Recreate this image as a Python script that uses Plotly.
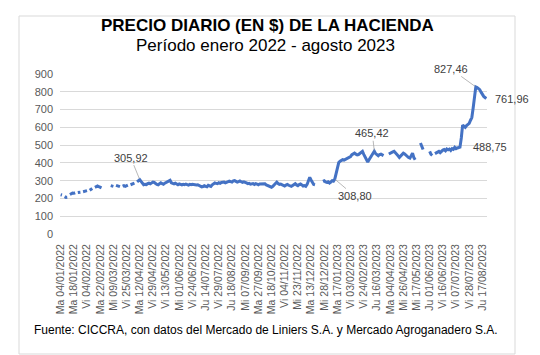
import plotly.graph_objects as go

# Tick labels (every 10th trading day)
tick_labels = [
    "Ma 04/01/2022", "Ma 18/01/2022", "Vi 04/02/2022", "Ma 22/02/2022", "Mi 09/03/2022",
    "Vi 25/03/2022", "Ma 12/04/2022", "Vi 29/04/2022", "Vi 13/05/2022", "Mi 01/06/2022",
    "Vi 24/06/2022", "Ju 14/07/2022", "Vi 29/07/2022", "Ju 18/08/2022", "Mi 07/09/2022",
    "Ma 27/09/2022", "Ma 18/10/2022", "Vi 04/11/2022", "Mi 23/11/2022", "Ma 13/12/2022",
    "Mi 28/12/2022", "Ma 17/01/2023", "Vi 03/02/2023", "Vi 24/02/2023", "Ju 16/03/2023",
    "Ma 04/04/2023", "Mi 26/04/2023", "Mi 17/05/2023", "Ju 01/06/2023", "Vi 16/06/2023",
    "Vi 07/07/2023", "Vi 28/07/2023", "Ju 17/08/2023",
]

# Daily price (one value per trading day, None = no data)
precio = [
    221, 219, None, 210, 206, 207, None, 222, 228, 230,
    229, 232, None, 233, 236, 235, None, 238, 241, 240,
    244, None, 246, 249, 256, None, 262, 268, 270, 266,
    262, 259, None, None, None, None, None, None, 272, 270,
    268, None, 274, 271, 270, 266, None, 269, 272, 268,
    271, 275, None, 277, 280, 284, 286, None, 293, 298,
    305.92, 296, 284, 277, 279, 278, 283, 286, 282, 288,
    292, 290, 282, 279, 277, 284, 288, 283, 280, 286,
    290, 294, 298, 302, 288, 283, 282, 286, 280, 277,
    282, 280, 276, 279, 277, 281, 278, 275, 279, 277,
    280, 278, 274, 276, 277, 273, 269, 265, 267, 272,
    268, 266, 274, 271, 268, 277, 283, 287, 285, 283,
    288, 285, 290, 293, 292, 288, 291, 294, 297, 295,
    292, 299, 300, 296, 292, 295, 298, 294, 290, 293,
    292, 287, 283, 285, 280, 282, 284, 279, 283, 281,
    277, 281, 282, 279, 283, 282, 276, 272, 268, 265,
    263, 268, 276, 281, 292, 284, 279, 281, 276, 272,
    270, 275, 279, 274, 271, 268, 273, 279, 283, 276,
    272, 278, 281, 276, 270, 272, 268, 279, 296, 319,
    304, 286, 279, 277, None, None, None, None, None, 296,
    299, 293, 290, 294, 287, 292, 300, 297, 308.80, 340,
    378, 402, 409, 412, 418, 416, 421, 425, 428, 431,
    436, 446, 452, 455, 449, 445, 447, 452, 460, 465,
    448, 432, 414, 405, 418, 430, 436, 448, 465.42, 452,
    444, 440, 447, 449, 445, 441, None, None, None, 450,
    455, 458, 462, 465, 458, 450, 440, 431, 438, 447,
    455, 450, 442, 436, 430, 427, 440, 455, 430, 418,
    None, None, None, 512, 490, 475, None, None, None, None,
    465, 448, 442, None, 452, 455, 462, 465, 458, 468,
    472, 475, 468, 478, 474, 478, 470, 480, 476, 487,
    480, 484, 486, 488.75, 540, 612, 606, 600, 610, 615,
    622, 640, 655, 709, 790, 827.46, 824, 820, 812, 798,
    783, 774, 768, 761.96,
]

dias = list(range(len(precio)))
tick_vals = [i * 10 for i in range(len(tick_labels))]

FONT = "Liberation Sans, Arial, sans-serif"
LINE_COLOR = "#4472C4"

fig = go.Figure()
fig.add_trace(go.Scatter(
    x=dias, y=precio, mode="lines", connectgaps=False,
    line=dict(color=LINE_COLOR, width=3),
    hoverinfo="skip", showlegend=False,
))

def fmt(v):
    return f"{v:.2f}".replace(".", ",")

ann = []
# labelled points with leader lines (offsets in px)
for idx, ax, ay in [(60, -9, -22), (208, 20, 17), (238, -2, -18), (315, -25, -18)]:
    ann.append(dict(x=idx, y=precio[idx], text=fmt(precio[idx]), showarrow=True,
                    arrowhead=0, arrowwidth=0.8, arrowcolor="#a6a6a6",
                    ax=ax, ay=ay, standoff=1,
                    font=dict(family=FONT, size=11, color="#404040")))
# labels without leader lines
for idx, xs in [(303, 11), (323, 7)]:
    ann.append(dict(x=idx, y=precio[idx], text=fmt(precio[idx]), showarrow=False,
                    xanchor="left", xshift=xs,
                    font=dict(family=FONT, size=11, color="#404040")))

ann.append(dict(xref="paper", yref="paper", x=0.487, y=1.306, yanchor="middle",
                text="<b>PRECIO DIARIO (EN $) DE LA HACIENDA</b>", showarrow=False,
                font=dict(family=FONT, size=17, color="#000000")))
ann.append(dict(xref="paper", yref="paper", x=0.482, y=1.181, yanchor="middle",
                text="Período enero 2022 - agosto 2023", showarrow=False,
                font=dict(family=FONT, size=17, color="#000000")))
ann.append(dict(xref="paper", yref="paper", x=0.482, y=-0.60, yanchor="middle",
                text="Fuente: CICCRA, con datos del Mercado de Liniers S.A. y Mercado Agroganadero S.A.",
                showarrow=False, font=dict(family=FONT, size=12, color="#000000")))

fig.update_layout(
    width=540, height=355,
    margin=dict(l=52, r=61, t=66, b=129),
    paper_bgcolor="white", plot_bgcolor="white",
    font=dict(family=FONT),
    annotations=ann,
    shapes=[dict(type="rect", xref="paper", yref="paper",
                 x0=-0.096, x1=1.0656, y0=-0.75, y1=1.3625,
                 line=dict(color="#d9d9d9", width=1))],
    xaxis=dict(
        range=[-0.5, len(precio) - 0.5], tickmode="array",
        tickvals=tick_vals, ticktext=tick_labels, tickangle=-90,
        showgrid=False, zeroline=False, showline=False, ticks="",
        ticklabelstandoff=7,
        tickfont=dict(family=FONT, size=10.5, color="#595959"),
    ),
    yaxis=dict(
        range=[0, 900], tickmode="linear", tick0=0, dtick=100,
        showgrid=True, gridcolor="#d9d9d9", gridwidth=1,
        zeroline=False, showline=False, ticks="",
        ticklabelstandoff=6,
        tickfont=dict(family=FONT, size=11, color="#595959"),
    ),
)

fig.write_html("out.html")
